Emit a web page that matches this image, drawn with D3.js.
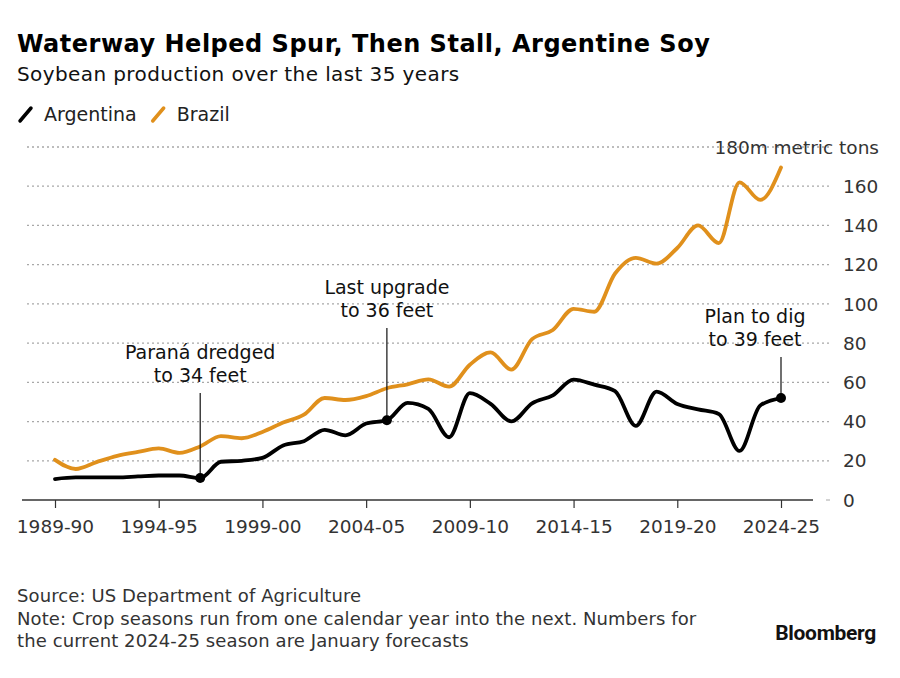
<!DOCTYPE html>
<html>
<head>
<meta charset="utf-8">
<script src="https://cdn.jsdelivr.net/npm/d3@7"></script>
<style>
  html, body { margin: 0; padding: 0; background: #fff; }
  svg { display: block; }
</style>
</head>
<body>
<div id="chart"></div>
<script>
const seasons = ["1989-90","1990-91","1991-92","1992-93","1993-94","1994-95","1995-96","1996-97","1997-98","1998-99",
  "1999-00","2000-01","2001-02","2002-03","2003-04","2004-05","2005-06","2006-07","2007-08","2008-09",
  "2009-10","2010-11","2011-12","2012-13","2013-14","2014-15","2015-16","2016-17","2017-18","2018-19",
  "2019-20","2020-21","2021-22","2022-23","2023-24","2024-25"];
const argentina = [10.7,11.5,11.5,11.5,12.0,12.5,12.5,11.2,19.5,20.0,
  21.5,27.8,30.0,35.8,33.0,39.0,40.7,49.5,46.5,32.0,
  54.5,49.0,40.1,49.3,53.4,61.4,58.8,55.5,37.8,55.3,
  49.0,46.2,43.9,25.0,48.2,52.0];
const brazil = [20.5,15.8,19.3,22.5,24.5,26.3,24.0,27.3,32.6,31.5,
  34.7,39.5,43.5,52.0,51.0,53.0,57.0,59.0,61.5,57.8,
  69.0,75.3,66.5,82.0,86.7,97.5,96.0,115.5,123.5,120.5,
  128.5,140.0,131.0,162.0,153.0,169.5];
const xTickLabels = ["1989-90","1994-95","1999-00","2004-05","2009-10","2014-15","2019-20","2024-25"];
const yTicks = [0,20,40,60,80,100,120,140,160];
const yTopLabel = "180m metric tons";
const seriesNames = ["Argentina","Brazil"];
const seriesColors = ["#000000","#e0901c"];
const annotations = [
  {season:"1996-97", lines:["Paraná dredged","to 34 feet"]},
  {season:"2005-06", lines:["Last upgrade","to 36 feet"]},
  {season:"2024-25", lines:["Plan to dig","to 39 feet"]}
];

const W = 900, H = 678;
const svg = d3.select("#chart").append("svg").attr("width", W).attr("height", H);
const sans = "'DejaVu Sans', sans-serif";

const x = d3.scalePoint().domain(seasons).range([55, 781]);
const y = d3.scaleLinear().domain([0, 180]).range([500, 147]);

// Title etc.
svg.append("text").attr("x", 17).attr("y", 52).attr("font-family", sans).attr("font-weight", "bold")
  .attr("font-size", 24).attr("letter-spacing", 0.5).attr("fill", "#000")
  .text("Waterway Helped Spur, Then Stall, Argentine Soy");
svg.append("text").attr("x", 17).attr("y", 81).attr("font-family", sans)
  .attr("font-size", 20).attr("letter-spacing", 0.4).attr("fill", "#111")
  .text("Soybean production over the last 35 years");

// Legend
const leg = svg.append("g");
let lx = 20;
seriesNames.forEach((n, i) => {
  leg.append("line").attr("x1", lx).attr("y1", 121).attr("x2", lx + 11).attr("y2", 108)
    .attr("stroke", seriesColors[i]).attr("stroke-width", 3.5).attr("stroke-linecap", "round");
  const t = leg.append("text").attr("x", lx + 24).attr("y", 121).attr("font-family", sans)
    .attr("font-size", 19).attr("fill", "#222").text(n);
  lx = lx + 24 + t.node().getComputedTextLength() + 16;
});

// Grid
const grid = svg.append("g");
yTicks.concat([180]).forEach(v => {
  if (v === 0) return;
  grid.append("line").attr("x1", 27).attr("x2", 830).attr("y1", y(v)).attr("y2", y(v))
    .attr("stroke", "#a8a8a8").attr("stroke-width", 1.3).attr("stroke-dasharray", "2,3");
});
grid.append("line").attr("x1", 826).attr("x2", 830).attr("y1", y(0)).attr("y2", y(0))
  .attr("stroke", "#bbb").attr("stroke-width", 1.3);

// Y labels
yTicks.forEach(v => {
  svg.append("text").attr("x", 843).attr("y", y(v)).attr("dy", "0.36em").attr("font-family", sans)
    .attr("font-size", 18.5).attr("fill", "#333").text(v);
});
svg.append("text").attr("x", 879).attr("y", y(180)).attr("dy", "0.36em").attr("text-anchor", "end")
  .attr("font-family", sans).attr("font-size", 18.5).attr("fill", "#333").text(yTopLabel);

// X axis
const xAxis = d3.axisBottom(x).tickValues(xTickLabels).tickSize(8).tickPadding(12);
const gx = svg.append("g").attr("transform", `translate(0,${y(0)})`).call(xAxis);
gx.select(".domain").remove();
gx.selectAll(".tick line").attr("stroke", "#333").attr("stroke-width", 1.2);
gx.selectAll(".tick text").attr("font-family", sans).attr("font-size", 18.5).attr("fill", "#333");
svg.append("line").attr("x1", 22).attr("x2", 813).attr("y1", y(0)).attr("y2", y(0))
  .attr("stroke", "#333").attr("stroke-width", 1.3);

// Lines
const line = d3.line().x((d, i) => x(seasons[i])).y(d => y(d)).curve(d3.curveMonotoneX);
[brazil, argentina].forEach((s, k) => {
  svg.append("path").datum(s).attr("d", line).attr("fill", "none")
    .attr("stroke", k === 0 ? seriesColors[1] : seriesColors[0])
    .attr("stroke-width", 3.8).attr("stroke-linejoin", "round").attr("stroke-linecap", "round");
});

// Annotations
const annTop = {"1996-97": 359, "2005-06": 294, "2024-25": 323};
annotations.forEach(a => {
  const i = seasons.indexOf(a.season);
  const cx = x(a.season), cy = y(argentina[i]);
  const tx = a.season === "2024-25" ? cx - 26 : cx;
  const topY = annTop[a.season];
  a.lines.forEach((l, j) => {
    svg.append("text").attr("x", tx).attr("y", topY + j * 23).attr("text-anchor", "middle")
      .attr("font-family", sans).attr("font-size", 19).attr("fill", "#111").text(l);
  });
  svg.append("line").attr("x1", cx).attr("x2", cx).attr("y1", topY + 23 + 11).attr("y2", cy)
    .attr("stroke", "#111").attr("stroke-width", 1.2);
  svg.append("circle").attr("cx", cx).attr("cy", cy).attr("r", 5).attr("fill", "#000");
});

// Footer
const foot = ["Source: US Department of Agriculture",
  "Note: Crop seasons run from one calendar year into the next. Numbers for",
  "the current 2024-25 season are January forecasts"];
foot.forEach((t, j) => {
  svg.append("text").attr("x", 17).attr("y", 602 + j * 22.5).attr("font-family", sans)
    .attr("font-size", 18).attr("letter-spacing", 0.1).attr("fill", "#333").text(t);
});
svg.append("text").attr("x", 876).attr("y", 640).attr("text-anchor", "end")
  .attr("font-family", "Roboto, 'Open Sans', sans-serif").attr("font-weight", "bold")
  .attr("font-size", 21).attr("fill", "#111").attr("letter-spacing", "-0.3").text("Bloomberg");
</script>
</body>
</html>
